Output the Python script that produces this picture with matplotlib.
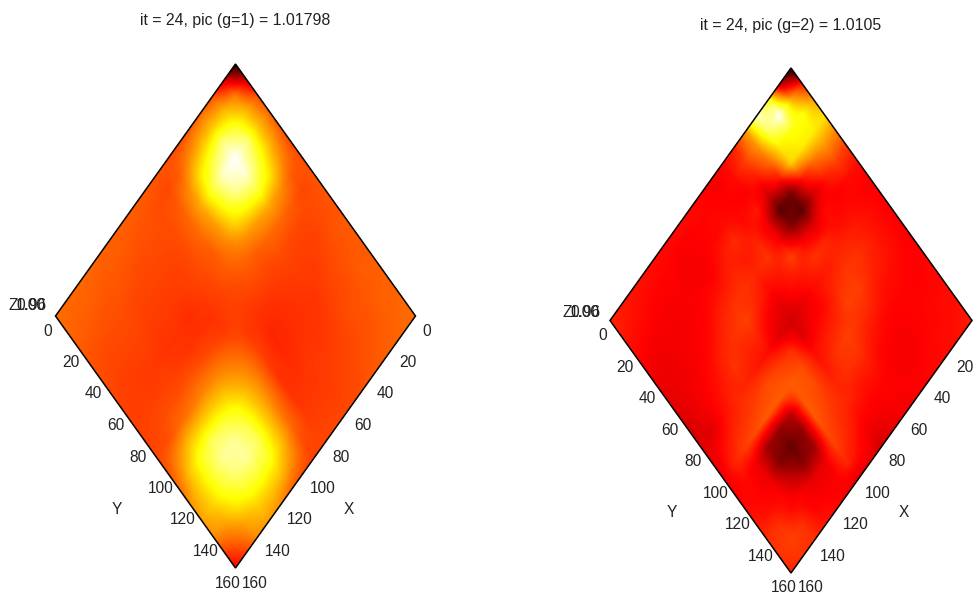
import numpy as np
import matplotlib
matplotlib.use("Agg")
import matplotlib.pyplot as plt
from matplotlib.patches import Polygon
from matplotlib.transforms import Affine2D

plt.rcParams['font.family'] = ['Liberation Sans', 'DejaVu Sans']

W, H = 979, 597

tick_values = [0, 20, 40, 60, 80, 100, 120, 140, 160]
title_g1 = "it = 24, pic (g=1) = 1.01798"
title_g2 = "it = 24, pic (g=2) = 1.0105"
z_labels = ["0.96", "1.00"]

# field values, rows follow X, columns follow Y (position on the hot colour scale, 0-100)
field_g1 = [
    [0, 30, 48, 52, 50, 47, 48, 49, 49, 49, 50, 50, 50, 51, 51, 52, 53],
    [30, 55, 64, 66, 64, 58, 50, 47, 48, 48, 49, 49, 50, 50, 51, 51, 52],
    [48, 64, 78, 88, 80, 72, 58, 50, 47, 46, 47, 48, 48, 49, 49, 50, 51],
    [52, 66, 88, 100, 95, 80, 62, 52, 47, 46, 45, 46, 47, 48, 48, 49, 50],
    [50, 64, 80, 95, 90, 76, 60, 52, 48, 46, 45, 44, 45, 46, 47, 48, 49],
    [47, 58, 72, 80, 76, 70, 58, 50, 47, 45, 44, 44, 44, 45, 46, 47, 48],
    [48, 50, 58, 62, 60, 58, 54, 50, 47, 44, 43, 43, 44, 45, 45, 46, 47],
    [49, 47, 50, 52, 52, 50, 50, 48, 46, 44, 42, 42, 43, 44, 45, 46, 47],
    [50, 48, 48, 48, 48, 48, 47, 46, 46, 45, 46, 45, 44, 44, 45, 46, 47],
    [50, 49, 48, 47, 46, 46, 45, 44, 45, 50, 54, 56, 56, 54, 52, 48, 46],
    [51, 49, 48, 47, 46, 45, 43, 44, 47, 54, 60, 66, 68, 68, 66, 58, 48],
    [51, 50, 48, 47, 46, 45, 44, 44, 48, 56, 66, 76, 82, 84, 78, 66, 52],
    [51, 50, 49, 47, 46, 45, 44, 45, 49, 56, 68, 82, 90, 90, 80, 68, 58],
    [52, 50, 49, 48, 47, 46, 45, 46, 48, 54, 68, 84, 90, 86, 78, 68, 60],
    [52, 51, 49, 48, 47, 46, 45, 46, 48, 52, 66, 78, 80, 78, 72, 62, 58],
    [52, 51, 50, 48, 47, 46, 46, 46, 47, 48, 58, 66, 68, 68, 62, 54, 46],
    [53, 52, 50, 49, 48, 47, 46, 46, 46, 47, 48, 52, 58, 60, 58, 46, 36],
]

field_g2 = [
    [0, 40, 60, 70, 56, 44, 38, 36, 36, 36, 36, 36, 37, 38, 38, 39, 41],
    [26, 62, 76, 72, 58, 46, 38, 37, 38, 38, 38, 37, 36, 37, 38, 38, 39],
    [76, 98, 76, 72, 52, 40, 36, 38, 40, 41, 40, 38, 37, 37, 37, 38, 38],
    [95, 84, 72, 68, 40, 30, 38, 38, 42, 44, 42, 39, 37, 36, 36, 37, 38],
    [60, 58, 52, 40, 16, 12, 32, 42, 42, 45, 46, 42, 38, 36, 35, 36, 37],
    [42, 46, 40, 30, 12, 18, 36, 44, 40, 43, 46, 44, 40, 37, 36, 36, 36],
    [38, 38, 36, 40, 34, 36, 46, 40, 38, 38, 42, 46, 44, 40, 37, 36, 35],
    [35, 36, 37, 38, 42, 44, 40, 38, 33, 36, 40, 44, 44, 40, 37, 35, 33],
    [37, 37, 38, 43, 40, 42, 38, 33, 30, 32, 38, 40, 42, 42, 38, 34, 30],
    [38, 37, 37, 40, 42, 44, 42, 36, 32, 44, 48, 48, 46, 44, 42, 38, 34],
    [38, 36, 36, 36, 40, 44, 46, 42, 38, 46, 50, 50, 50, 48, 46, 42, 32],
    [38, 36, 35, 36, 38, 42, 44, 42, 40, 48, 50, 26, 20, 22, 34, 36, 36],
    [38, 37, 36, 36, 36, 38, 42, 44, 42, 46, 50, 20, 14, 18, 33, 36, 38],
    [39, 37, 36, 35, 36, 36, 38, 40, 42, 44, 48, 22, 18, 28, 36, 37, 40],
    [39, 38, 36, 35, 35, 35, 36, 37, 38, 42, 46, 34, 34, 37, 38, 44, 44],
    [40, 39, 37, 35, 34, 34, 34, 34, 32, 38, 42, 38, 37, 38, 44, 46, 44],
    [42, 40, 38, 36, 34, 33, 32, 30, 32, 33, 34, 36, 38, 40, 44, 44, 42],
]


def panel(field, title, title_pad, cx, top, half_w, half_h, z_pos):
    bottom = top + 2 * half_h
    left, right = cx - half_w, cx + half_w
    ax = fig.add_axes([left / W, 1 - bottom / H, 2 * half_w / W, 2 * half_h / H])
    ax.set_xlim(left, right)
    ax.set_ylim(bottom, top)
    ax.set_axis_off()

    # (y, x) data coordinates -> picture position of the rotated box
    sx, sy = half_w / 160, half_h / 160
    rot = Affine2D.from_values(sx, sy, -sx, sy, cx, top)
    tr = rot + ax.transData
    box = Polygon([(0, 0), (160, 0), (160, 160), (0, 160)], closed=True, transform=tr,
                  facecolor='none', edgecolor='black', lw=1.1, clip_on=False, zorder=3)
    ax.add_patch(box)
    im = ax.imshow(np.array(field), cmap='hot', vmin=0, vmax=100, origin='upper',
                   extent=(-5, 165, 165, -5), interpolation='bilinear',
                   interpolation_stage='data', transform=tr, aspect='auto')
    im.set_clip_path(box)
    ax.set_xlim(left, right)
    ax.set_ylim(bottom, top)

    ax.set_title(title, fontsize=11.4, color='#222222', pad=title_pad)

    txt = dict(fontsize=11.2, color='#222222', va='center', clip_on=False)
    for v in tick_values:
        px, py = rot.transform((160, v))     # lower right edge
        ax.text(px + 6.5, py + 15, str(v), ha='left', **txt)
        px, py = rot.transform((v, 160))     # lower left edge
        ax.text(px - 7.5, py + 15, str(v), ha='center', **txt)

    ax.text(cx + 113, top + 445, 'X', ha='center', **txt)
    ax.text(cx - 119, top + 445, 'Y', ha='center', **txt)
    ax.text(z_pos[0], z_pos[1], 'Z', ha='center', **txt)
    for lab in z_labels:
        ax.text(z_pos[0] + 18, z_pos[1], lab, ha='center', **txt)


fig = plt.figure(figsize=(W / 100, H / 100), dpi=100, facecolor='white')
panel(field_g1, title_g1, 28.2, 235.5, 64, 180, 252, (13, 306))
panel(field_g2, title_g2, 27.7, 791, 68, 181, 252.5, (567, 313))
fig.savefig('out.png', dpi=100, facecolor='white')
